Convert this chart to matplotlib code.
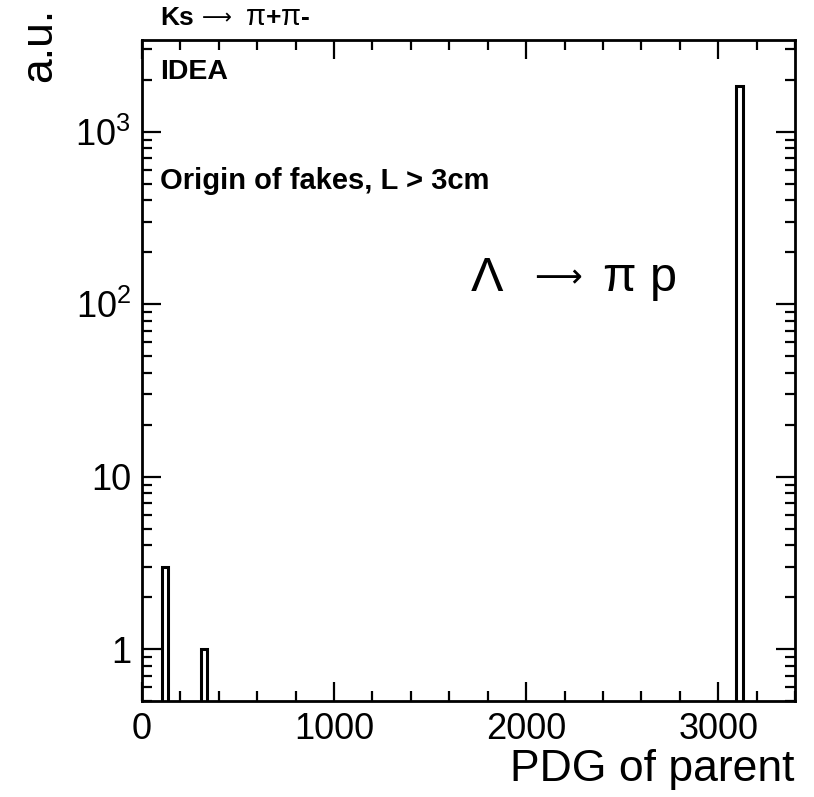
import numpy as np
import matplotlib
matplotlib.use('Agg')
import matplotlib.pyplot as plt
from matplotlib.ticker import FixedLocator, FixedFormatter, MultipleLocator

plt.rcParams['font.family'] = ['Liberation Sans', 'DejaVu Sans']
plt.rcParams['mathtext.fontset'] = 'custom'
plt.rcParams['mathtext.rm'] = 'Liberation Sans'
plt.rcParams['mathtext.it'] = 'Liberation Sans:italic'
plt.rcParams['mathtext.bf'] = 'Liberation Sans:bold'

# Parent PDG codes of the fake candidates and their counts
parent_pdg = [130, 310, 3122]
counts = [3, 1, 1850]

# Histogram binning: 100 bins from 0 to 3400
bins = np.linspace(0, 3400, 101)

y_ticks = [1, 10, 100, 1000]
y_tick_labels = ['1', '10', r'$10^2$', r'$10^3$']
x_ticks = [0, 1000, 2000, 3000]

W, H = 814, 797
fig = plt.figure(figsize=(W / 100, H / 100), dpi=100)
ax = fig.add_axes([142/W, 1 - 701/H, (795 - 142)/W, (701 - 40)/H])

ax.hist(parent_pdg, bins=bins, weights=counts, histtype='bar', fill=False,
        edgecolor='black', linewidth=2.2, log=True)

ax.set_xlim(0, 3400)
ax.set_ylim(0.5, 3400)

# ROOT-like ticks: inward, on all four sides
ax.xaxis.set_major_locator(FixedLocator(x_ticks))
ax.xaxis.set_minor_locator(MultipleLocator(200))
ax.yaxis.set_major_locator(FixedLocator(y_ticks))
ax.yaxis.set_major_formatter(FixedFormatter(y_tick_labels))
minor_y = [m * 10.0**e for e in range(-1, 4) for m in range(2, 10)]
ax.yaxis.set_minor_locator(FixedLocator(minor_y))
ax.yaxis.set_minor_formatter(FixedFormatter([''] * len(minor_y)))

ax.tick_params(which='both', direction='in', top=True, right=True, width=1.6)
ax.tick_params(which='major', length=14, labelsize=26)
ax.tick_params(axis='x', which='major', pad=8)
ax.tick_params(axis='y', which='major', pad=8)
ax.tick_params(which='minor', length=7)
for s in ax.spines.values():
    s.set_linewidth(2)

# Axis titles
fig.text(795/W, 1 - 781/H, 'PDG of parent', ha='right', va='baseline', fontsize=32)
fig.text(40/W, 1 - 8/H, 'a.u.', ha='center', va='top', rotation=90, fontsize=32)

renderer = fig.canvas.get_renderer()


def put_pieces(x_px, base_px, pieces):
    # lay text pieces one after another on a common baseline
    for txt, wt, fam, size, gap, lift in pieces:
        x_px += gap
        t = fig.text(x_px / W, 1 - (base_px - lift) / H, txt, ha='left', va='baseline',
                     fontsize=size, fontweight=wt, family=fam)
        x_px = t.get_window_extent(renderer).x1


sans = ['Liberation Sans', 'DejaVu Sans']
dv = ['DejaVu Sans']
arrow = '\u27f6'
put_pieces(160, 25, [('Ks', 'bold', sans, 19, 0, 0), (arrow, 'normal', dv, 15, 8, 1),
                     ('\u03c0', 'normal', sans, 21, 14, 0), ('+', 'bold', sans, 19, 0, 0),
                     ('\u03c0', 'normal', sans, 21, 0, 0), ('-', 'bold', sans, 19, 0, 0)])

put_pieces(471, 291, [('\u039b', 'normal', sans, 35, 0, 0), (arrow, 'normal', dv, 24, 31, 4),
                      ('\u03c0', 'normal', sans, 35, 20, 0), ('p', 'normal', sans, 35, 14, 0)])

ax.text(0.027, 0.952, 'IDEA', transform=ax.transAxes, ha='left', va='center',
        fontsize=20.5, fontweight='bold')
ax.text(0.027, 0.787, 'Origin of fakes, L > 3cm', transform=ax.transAxes, ha='left',
        va='center', fontsize=21, fontweight='bold')

fig.savefig('out.png', dpi=100)
